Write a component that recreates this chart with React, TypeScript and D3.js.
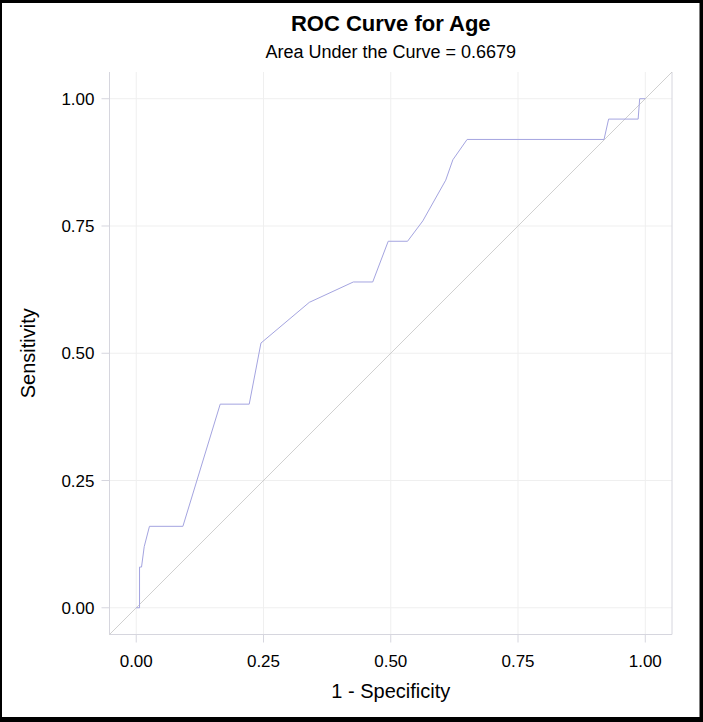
import * as d3 from 'd3';

// ROC points
const fpr = [0, 0.0065, 0.0065, 0.0104, 0.0157, 0.026, 0.0917, 0.165, 0.222, 0.245, 0.34, 0.4265, 0.4646, 0.495, 0.533, 0.563, 0.608, 0.622, 0.65, 0.919, 0.928, 0.986, 0.989, 1.0];
const tpr = [0, 0, 0.08, 0.08, 0.12, 0.16, 0.16, 0.4, 0.4, 0.52, 0.6, 0.64, 0.64, 0.72, 0.72, 0.76, 0.84, 0.88, 0.92, 0.92, 0.96, 0.96, 1.0, 1.0];

const tickValues = [0, 0.25, 0.5, 0.75, 1];
const tickLabels = ['0.00', '0.25', '0.50', '0.75', '1.00'];

const title = 'ROC Curve for Age';
const subtitle = 'Area Under the Curve = 0.6679';
const xTitle = '1 - Specificity';
const yTitle = 'Sensitivity';

const W = 703;
const H = 722;
const panel = { left: 109.5, right: 672, top: 72, bottom: 634.5 };
const font = '"Liberation Sans", Arial, Helvetica, sans-serif';

export default function App() {
    const x = d3.scaleLinear().domain([-0.0525, 1.0525]).range([panel.left, panel.right]);
    const y = d3.scaleLinear().domain([-0.0525, 1.0525]).range([panel.bottom, panel.top]);

    const points: [number, number][] = fpr.map((f, i) => [f, tpr[i]]);
    const line = d3.line<[number, number]>()
        .x((d) => x(d[0]))
        .y((d) => y(d[1]));

    const diag = d3.line<number>()
        .x((d) => x(d))
        .y((d) => y(d))([-0.0525, 1.0525]);

    const cx = (panel.left + panel.right) / 2;
    const cy = (panel.top + panel.bottom) / 2;

    return (
        <svg
            width={W}
            height={H}
            style={{ position: 'absolute', left: 0, top: 0, display: 'block', background: '#fff' }}
            fontFamily={font}
        >
            <rect x={0} y={0} width={W} height={H} fill="#fff" />

            {/* Gridlines */}
            {tickValues.map((t) => (
                <g key={'g' + t}>
                    <line x1={x(t)} x2={x(t)} y1={panel.top} y2={panel.bottom} stroke="#efefef" strokeWidth={1} />
                    <line x1={panel.left} x2={panel.right} y1={y(t)} y2={y(t)} stroke="#efefef" strokeWidth={1} />
                </g>
            ))}

            {/* Panel edges */}
            <line x1={panel.left} x2={panel.left} y1={panel.top} y2={panel.bottom} stroke="#d6d6de" />
            <line x1={panel.left} x2={panel.right} y1={panel.bottom} y2={panel.bottom} stroke="#d6d6de" />
            <line x1={panel.right} x2={panel.right} y1={panel.top} y2={panel.bottom} stroke="#d6d6de" />

            {/* Ticks */}
            {tickValues.map((t, i) => (
                <g key={'t' + t}>
                    <line x1={x(t)} x2={x(t)} y1={panel.bottom} y2={panel.bottom + 8} stroke="#d6d6de" />
                    <line x1={panel.left - 8} x2={panel.left} y1={y(t)} y2={y(t)} stroke="#d6d6de" />
                    <text x={x(t)} y={667} textAnchor="middle" fontSize={17} fill="#000">{tickLabels[i]}</text>
                    <text x={94.5} y={y(t) + 6} textAnchor="end" fontSize={17} fill="#000">{tickLabels[i]}</text>
                </g>
            ))}

            {/* Reference diagonal */}
            <path d={diag || ''} fill="none" stroke="#c4c4c4" strokeWidth={0.8} />

            {/* ROC curve */}
            <path d={line(points) || ''} fill="none" stroke="#a4a4e0" strokeWidth={1} />

            {/* Titles */}
            <text x={cx} y={31} textAnchor="middle" fontSize={22} fontWeight="bold" fill="#000">{title}</text>
            <text x={cx} y={58} textAnchor="middle" fontSize={18} fill="#000">{subtitle}</text>
            <text x={cx} y={698} textAnchor="middle" fontSize={20} fill="#000">{xTitle}</text>
            <text
                x={0}
                y={0}
                transform={`translate(35, ${cy}) rotate(-90)`}
                textAnchor="middle"
                fontSize={20}
                fill="#000"
            >
                {yTitle}
            </text>

            {/* Outer frame */}
            <path
                d={`M0,0H${W}V${H}H0Z M2,3V717H699.5V3Z`}
                fill="#000"
                fillRule="evenodd"
            />
        </svg>
    );
}
